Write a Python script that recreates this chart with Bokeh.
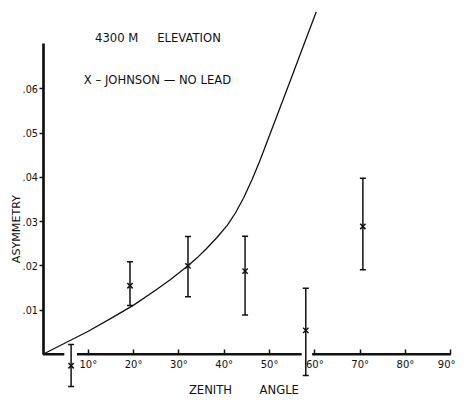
from bokeh.plotting import figure
from bokeh.models import (Range1d, LinearAxis, FixedTicker, CustomJSTickFormatter, Label)
from bokeh.embed import file_html
from bokeh.resources import INLINE

# ---- data ----
angles = [6.2, 19.2, 32.0, 44.6, 58.0, 70.6]
asym = [-0.0026, 0.0155, 0.0200, 0.0188, 0.0054, 0.0289]
err_hi = [0.0022, 0.0209, 0.0266, 0.0267, 0.0149, 0.0398]
err_lo = [-0.0073, 0.0110, 0.0130, 0.0089, -0.0048, 0.0191]

curve_x = [0, 5, 10, 15, 20, 25, 28, 32, 34, 36, 38.4, 40.7, 42.5, 44.35, 46.1,
           47.8, 49.0, 50.3, 54.6, 57.5, 60.3]
curve_y = [0, 0.0026, 0.0052, 0.0081, 0.0111, 0.0146, 0.0168, 0.0200, 0.0218,
           0.0238, 0.0264, 0.0292, 0.0320, 0.0355, 0.0394, 0.0436, 0.0468,
           0.0503, 0.0619, 0.0698, 0.0774]

x_ticks = [10, 20, 30, 40, 50, 60, 70, 80, 90]
y_ticks = [0.01, 0.02, 0.03, 0.04, 0.05, 0.06]

# broken x-axis line pieces (gaps where error bars cross)
axis_x0 = [0, 7.5, 59.4]
axis_x1 = [4.7, 57.1, 90]

FONT = "DejaVu Sans"
INK = "#111111"

W, H = 455, 397
sx, sy = W / 471, H / 413
px_deg = 4.69 * sx
px_unit = 4600.0 * sy
x_start = -(44 * sx) / px_deg
x_end = x_start + W / px_deg
y_end = (368 * sy) / px_unit
y_start = y_end - H / px_unit

p = figure(width=W, height=H, output_backend="svg", toolbar_location=None,
           x_range=Range1d(x_start, x_end), y_range=Range1d(y_start, y_end),
           x_axis_type=None, y_axis_type=None, min_border=0)
p.outline_line_color = None
p.background_fill_color = "white"
p.border_fill_color = "white"

xaxis = LinearAxis(fixed_location=0, bounds=(0, 90),
                   ticker=FixedTicker(ticks=x_ticks),
                   formatter=CustomJSTickFormatter(code="return tick + '°'"),
                   axis_line_alpha=0, major_tick_in=5, major_tick_out=0,
                   major_tick_line_width=1.5, major_tick_line_color=INK,
                   minor_tick_line_alpha=0, major_label_standoff=5,
                   major_label_text_font=FONT, major_label_text_font_size="10px",
                   major_label_text_color=INK)
p.add_layout(xaxis, "below")

yaxis = LinearAxis(fixed_location=0, bounds=(0, 0.0702),
                   ticker=FixedTicker(ticks=y_ticks),
                   formatter=CustomJSTickFormatter(code="return tick.toFixed(2).slice(1)"),
                   axis_line_width=2.7, axis_line_color=INK,
                   major_tick_in=0, major_tick_out=4,
                   major_tick_line_width=1.5, major_tick_line_color=INK,
                   minor_tick_line_alpha=0, major_label_standoff=1,
                   major_label_text_font=FONT, major_label_text_font_size="9.7px",
                   major_label_text_color=INK)
p.add_layout(yaxis, "left")

# x-axis line drawn in pieces
p.segment(x0=axis_x0, y0=[0] * len(axis_x0), x1=axis_x1, y1=[0] * len(axis_x1),
          line_width=2.4, line_color=INK)

# theory curve
p.line(curve_x, curve_y, line_width=1.3, line_color=INK, line_join="round")

# error bars
p.segment(x0=angles, y0=err_lo, x1=angles, y1=err_hi, line_width=1.5, line_color=INK)
p.scatter(angles, err_hi, marker="dash", size=6, line_width=1.5, line_color=INK)
p.scatter(angles, err_lo, marker="dash", size=6, line_width=1.5, line_color=INK)
p.scatter(angles, asym, marker="x", size=7.5, line_width=1.5, line_color=INK)

def lab(text, x, y, size="11.6px", angle=0.0, align="left", baseline="alphabetic"):
    p.add_layout(Label(x=x, y=y, text=text, text_font=FONT, text_font_size=size,
                       text_color=INK, angle=angle, text_align=align,
                       text_baseline=baseline))

lab("4300 M", 11.5, 0.0716)
lab("ELEVATION", 25.2, 0.0716)
lab("X – JOHNSON — NO LEAD", 9.0, 0.0621)
lab("ZENITH", 32.2, -0.0080)
lab("ANGLE", 47.8, -0.0080)
lab("ASYMMETRY", -5.76, 0.0283, size="11.1px", angle=1.5708, align="center",
    baseline="middle")

open("out.html", "w").write(file_html(p, INLINE))
